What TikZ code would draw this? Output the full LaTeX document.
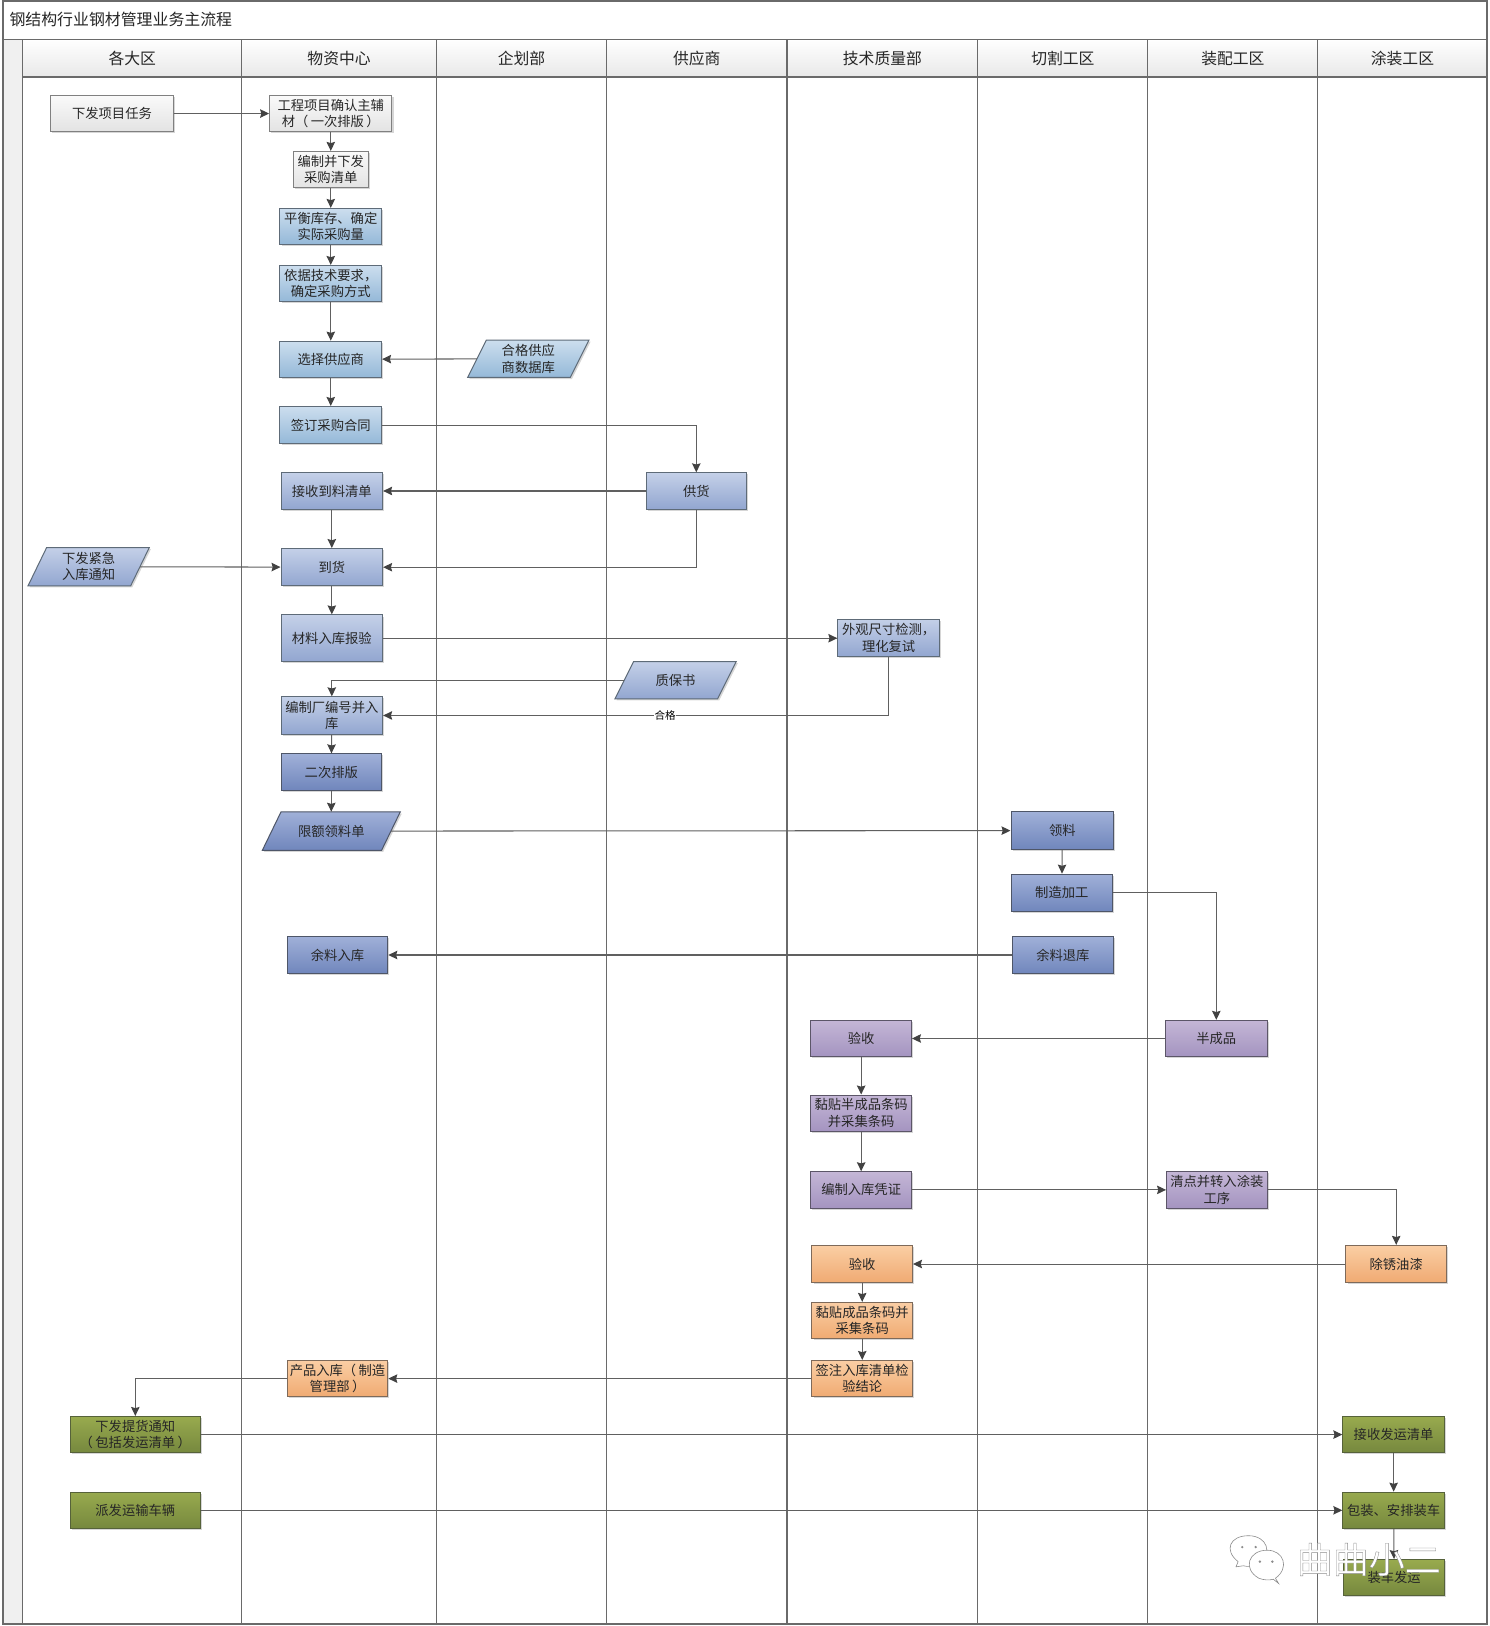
\documentclass[tikz,border=0pt]{standalone}
\usepackage{fontspec}
\setmainfont{Noto Sans CJK SC}
\usetikzlibrary{arrows.meta,shadows,calc}
\definecolor{ink}{HTML}{262626}
\definecolor{lane}{HTML}{6A6A6A}
\definecolor{wire}{HTML}{606060}
\definecolor{edgeblue}{HTML}{5E6B78}
\definecolor{edgedeep}{HTML}{4E5668}
\definecolor{edgepurp}{HTML}{5C5668}
\definecolor{edgeoran}{HTML}{7E6A5A}
\definecolor{edgegren}{HTML}{56623A}
\tikzset{
  x=1.0369pt,y=-1.0369pt,
  basebox/.style={draw,line width=1pt,text=ink,align=center,inner sep=0pt,
    font=\fontsize{13.3}{16.5}\selectfont,
    drop shadow={shadow xshift=1.6pt,shadow yshift=-1.6pt,fill=black,opacity=.16}},
  plain/.style={basebox,draw=black!50,top color=white!98!black,bottom color=white!89!black},
  blueA/.style={basebox,draw=edgeblue,top color={rgb,255:red,204;green,222;blue,238},bottom color={rgb,255:red,148;green,184;blue,216}},
  blueB/.style={basebox,draw=edgeblue,top color={rgb,255:red,196;green,208;blue,232},bottom color={rgb,255:red,146;green,166;blue,208}},
  blueC/.style={basebox,draw=edgedeep,top color={rgb,255:red,160;green,176;blue,216},bottom color={rgb,255:red,112;green,134;blue,188}},
  purp/.style={basebox,draw=edgepurp,top color={rgb,255:red,196;green,182;blue,214},bottom color={rgb,255:red,164;green,148;blue,192}},
  oran/.style={basebox,draw=edgeoran,top color={rgb,255:red,250;green,206;blue,164},bottom color={rgb,255:red,240;green,170;blue,114}},
  gren/.style={basebox,draw=edgegren,top color={rgb,255:red,152;green,170;blue,78},bottom color={rgb,255:red,118;green,136;blue,62}},
  lanebox/.style={fill=white,inner sep=0pt},
  laneline/.style={draw=lane,line width=1.4pt},
  headbox/.style={top color=white,bottom color=white!91!black,inner sep=0pt,
    text=ink,font=\fontsize{15.8}{18}\selectfont},
  wirepath/.style={draw=wire,line width=1.05pt,-{Stealth[length=9pt,width=8.5pt,inset=1.2pt,color=black!74]}},
  okmark/.style={fill=white,inner sep=.5pt,text=black,font=\fontsize{10.6}{12}\selectfont},
  mark text/.style={font=\fontsize{36}{38}\selectfont,inner sep=0pt}
}
% name, x1, x2, y1, y2, style, text
\newcommand\flowbox[7]{\node[#6,minimum width={(#3-#2)*1.0369pt},minimum height={(#5-#4)*1.0369pt}] (#1) at ({(#2+#3)/2},{(#4+#5)/2}) {#7};}
% parallelogram
\newcommand\flowpara[7]{%
  \path[#6] ({#2+18},#4) -- (#3,#4) -- ({#3-18},#5) -- (#2,#5) -- cycle;
  \node[text=ink,align=center,inner sep=0pt,font=\fontsize{13.3}{16.5}\selectfont,
    minimum width={(#3-#2-18)*1.0369pt},minimum height={(#5-#4)*1.0369pt}] (#1) at ({(#2+#3)/2},{(#4+#5)/2}) {#7};}
\newcommand\lp{（\hspace{.18em}}
\newcommand\rp{\hspace{.18em}）}
\begin{document}
\begin{tikzpicture}
\useasboundingbox (0,0) rectangle (1436,1568.1);
\fill[white] (0,0) rectangle (1436,1568.1);
% frame
\flowbox{frame}{3}{1434}{1}{38}{lanebox}{}
\node[anchor=west,inner sep=0pt,text=ink,font=\fontsize{15.9}{18}\selectfont] (title) at (9,18.5) {钢结构行业钢材管理业务主流程};
\flowbox{strip}{3}{22}{38}{1566}{lanebox,fill=black!6}{}
% lanes
\flowbox{l1}{22}{233}{74}{1566}{lanebox}{}
\flowbox{l2}{233}{421}{74}{1566}{lanebox}{}
\flowbox{l3}{421}{585}{74}{1566}{lanebox}{}
\flowbox{l4}{585}{759}{74}{1566}{lanebox}{}
\flowbox{l5}{759}{943}{74}{1566}{lanebox}{}
\flowbox{l6}{943}{1107}{74}{1566}{lanebox}{}
\flowbox{l7}{1107}{1271}{74}{1566}{lanebox}{}
\flowbox{l8}{1271}{1434}{74}{1566}{lanebox}{}
\flowbox{h1}{22}{233}{38}{74}{headbox}{各大区}
\flowbox{h2}{233}{421}{38}{74}{headbox}{物资中心}
\flowbox{h3}{421}{585}{38}{74}{headbox}{企划部}
\flowbox{h4}{585}{759}{38}{74}{headbox}{供应商}
\flowbox{h5}{759}{943}{38}{74}{headbox}{技术质量部}
\flowbox{h6}{943}{1107}{38}{74}{headbox}{切割工区}
\flowbox{h7}{1107}{1271}{38}{74}{headbox}{装配工区}
\flowbox{h8}{1271}{1434}{38}{74}{headbox}{涂装工区}
\draw[laneline] (frame.north west) rectangle (l8.south east);
\draw[laneline] (frame.south west) -- (frame.south east);
\draw[laneline] (h1.south west) -- (h8.south east);
\draw[laneline] (h1.north west) -- (l1.south west);
\draw[laneline] (h2.north west) -- (l2.south west);
\draw[laneline] (h3.north west) -- (l3.south west);
\draw[laneline] (h4.north west) -- (l4.south west);
\draw[laneline] (h5.north west) -- (l5.south west);
\draw[laneline] (h6.north west) -- (l6.south west);
\draw[laneline] (h7.north west) -- (l7.south west);
\draw[laneline] (h8.north west) -- (l8.south west);
% steps
\flowbox{task}{49}{167}{92}{127}{plain}{下发项目任务}
\flowbox{confirm}{260}{378}{92}{127}{plain}{工程项目确认主辅\\材\lp 一次排版\rp}
\flowbox{list}{283}{355}{146}{181}{plain}{编制并下发\\采购清单}
\flowbox{balance}{270}{368}{201}{236}{blueA}{平衡库存、确定\\实际采购量}
\flowbox{method}{270}{368}{256}{291}{blueA}{依据技术要求，\\确定采购方式}
\flowbox{choose}{270}{368}{329}{364}{blueA}{选择供应商}
\flowpara{suppdb}{451}{568}{328}{364}{blueA}{合格供应\\商数据库}
\flowbox{sign}{270}{368}{392}{428}{blueA}{签订采购合同}
\flowbox{recv}{271}{369}{456}{491}{blueB}{接收到料清单}
\flowbox{supply}{623}{720}{456}{491}{blueB}{供货}
\flowbox{arrive}{271}{369}{529}{565}{blueB}{到货}
\flowpara{urgent}{27}{144}{528}{565}{blueB}{下发紧急\\入库通知}
\flowbox{report}{271}{369}{593}{638}{blueB}{材料入库报验}
\flowbox{inspect}{808}{906}{597}{633}{blueB}{外观尺寸检测，\\理化复试}
\flowpara{cert}{593}{710}{638}{674}{blueB}{质保书}
\flowbox{number}{271}{369}{672}{708}{blueB}{编制厂编号并入\\库}
\flowbox{second}{271}{368}{727}{762}{blueC}{二次排版}
\flowpara{quota}{253}{386}{783}{820}{blueC}{限额领料单}
\flowbox{pick}{975}{1074}{783}{819}{blueC}{领料}
\flowbox{make}{975}{1073}{843}{879}{blueC}{制造加工}
\flowbox{retn}{976}{1074}{903}{939}{blueC}{余料退库}
\flowbox{rest}{277}{374}{903}{939}{blueC}{余料入库}
\flowbox{semi}{1124}{1222}{984}{1019}{purp}{半成品}
\flowbox{checkA}{782}{879}{984}{1019}{purp}{验收}
\flowbox{labelA}{782}{879}{1056}{1091}{purp}{黏贴半成品条码\\并采集条码}
\flowbox{voucher}{782}{879}{1130}{1165}{purp}{编制入库凭证}
\flowbox{count}{1125}{1222}{1130}{1165}{purp}{清点并转入涂装\\工序}
\flowbox{paint}{1298}{1395}{1201}{1237}{oran}{除锈油漆}
\flowbox{checkB}{783}{880}{1201}{1237}{oran}{验收}
\flowbox{labelB}{783}{880}{1256}{1291}{oran}{黏贴成品条码并\\采集条码}
\flowbox{signB}{783}{880}{1312}{1347}{oran}{签注入库清单检\\验结论}
\flowbox{store}{277}{374}{1312}{1347}{oran}{产品入库\lp 制造\\管理部\rp}
\flowbox{notice}{68}{193}{1366}{1401}{gren}{下发提货通知\\\lp 包括发运清单\rp}
\flowbox{recvship}{1295}{1393}{1366}{1401}{gren}{接收发运清单}
\flowbox{truck}{68}{193}{1439}{1474}{gren}{派发运输车辆}
\flowbox{pack}{1295}{1393}{1439}{1474}{gren}{包装、安排装车}
\flowbox{ship}{1296}{1393}{1504}{1539}{gren}{装车发运}
% connectors
\draw[wirepath] (task) -- (confirm);
\draw[wirepath] (confirm) -- (list);
\draw[wirepath] (list) -- (balance);
\draw[wirepath] (balance) -- (method);
\draw[wirepath] (method) -- (choose);
\draw[wirepath] (suppdb) -- (choose);
\draw[wirepath] (choose) -- (sign);
\draw[wirepath] (sign.east) -| (supply.north);
\draw[wirepath] (supply) -- (recv);
\draw[wirepath] (recv) -- (arrive);
\draw[wirepath] (supply.south) |- (arrive.east);
\draw[wirepath] (urgent) -- (arrive);
\draw[wirepath] (arrive) -- (report);
\draw[wirepath] (report.east) -- (report.east -| inspect.west);
\draw[wirepath] (cert.west) -| (number.north);
\draw[wirepath] (inspect.south) |- (number.east) node[pos=.721,okmark] (ok) {合格};
\draw[wirepath] (number) -- (second);
\draw[wirepath] (second) -- (quota);
\draw[wirepath] (quota) -- (pick);
\draw[wirepath] (pick) -- (make);
\draw[wirepath] (make.east) -| (semi.north);
\draw[wirepath] (retn) -- (rest);
\draw[wirepath] (semi) -- (checkA);
\draw[wirepath] (checkA) -- (labelA);
\draw[wirepath] (labelA) -- (voucher);
\draw[wirepath] (voucher) -- (count);
\draw[wirepath] (count.east) -| (paint.north);
\draw[wirepath] (paint) -- (checkB);
\draw[wirepath] (checkB) -- (labelB);
\draw[wirepath] (labelB) -- (signB);
\draw[wirepath] (signB) -- (store);
\draw[wirepath] (store.west) -| (notice.north);
\draw[wirepath] (notice) -- (recvship);
\draw[wirepath] (recvship) -- (pack);
\draw[wirepath] (truck) -- (pack);
\draw[wirepath] (pack) -- (ship);
% watermark
\begin{scope}[draw=black!45,fill=white,line width=.6pt]
  \path[draw,fill] (1192,1511) -- (1194,1506) .. controls (1180,1495) and (1186,1481) .. (1204,1481) .. controls (1222,1481) and (1228,1498) .. (1214,1508) .. controls (1208,1511) and (1203,1511) .. (1199,1510) -- cycle;
  \path[draw,fill] (1233,1527) -- (1230,1522) .. controls (1244,1512) and (1238,1495) .. (1222,1495) .. controls (1204,1495) and (1198,1513) .. (1214,1522) .. controls (1219,1524) and (1224,1524) .. (1228,1523) -- cycle;
  \fill[black!45] (1198,1492) circle (1.3) (1211,1492) circle (1.3) (1215,1506) circle (1.3) (1227,1506) circle (1.3);
\end{scope}
\node[mark text,text=white] (wm) at (1320,1504) {\special{pdf:code q 2 Tr 0.55 G 1 g 0.35 w}曲曲小二\special{pdf:code Q}};
\end{tikzpicture}
\end{document}
